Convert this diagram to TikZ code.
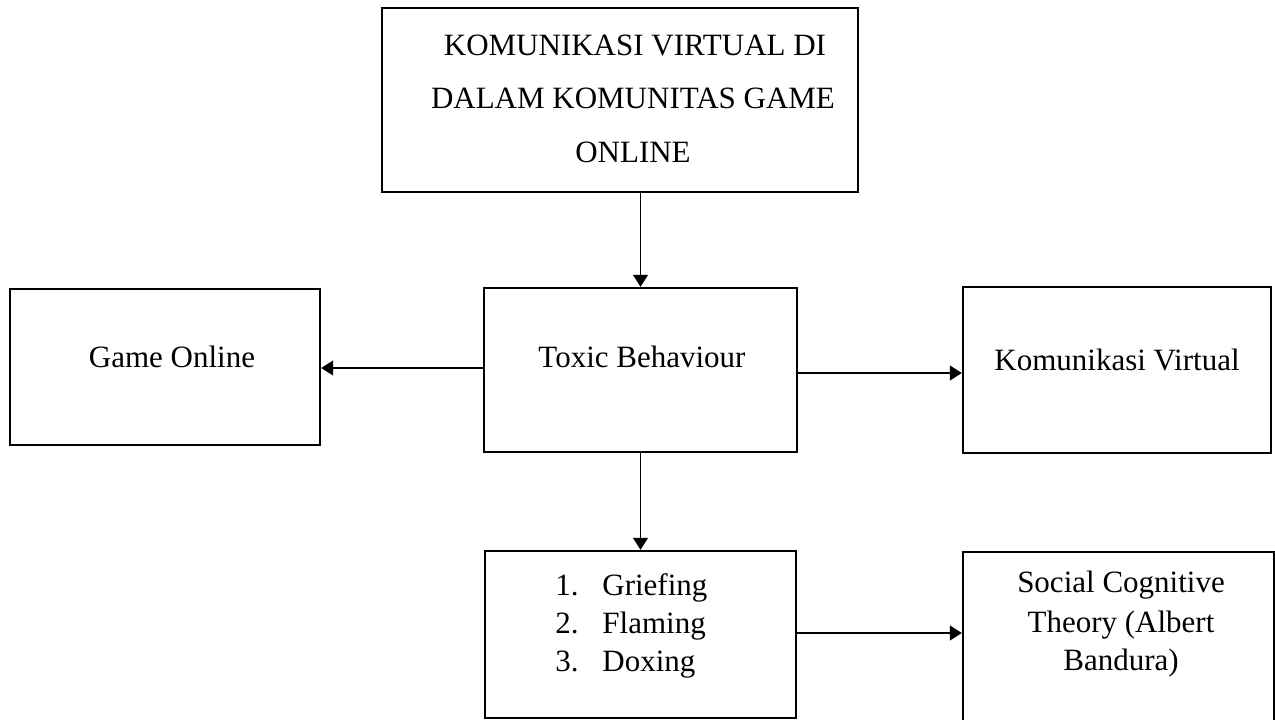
\documentclass[tikz,border=0pt]{standalone}
\usepackage{fontspec}
\setmainfont{Liberation Serif}
\usetikzlibrary{arrows.meta,fit}
\begin{document}
\begin{tikzpicture}[x=0.5pt,y=-0.5pt,
  box/.style={draw, line width=1.2pt, inner sep=0pt},
  arr/.style={-{Triangle[length=6pt,width=7.5pt]}, line width=0.6pt},
  txt/.style={inner sep=0pt, anchor=base, font=\fontsize{15.5pt}{19pt}\selectfont},
  ltxt/.style={txt, anchor=base west}]
\clip (0,0) rectangle (1275,719);
% boxes
\node[box, fit={(382,8) (858,192)}] (top) {};
\node[box, fit={(484,288) (797,452)}] (toxic) {};
\node[box, fit={(10,289) (320,445)}] (game) {};
\node[box, fit={(963,287) (1271,453)}] (kom) {};
\node[box, fit={(485,551) (796,718)}] (list) {};
\node[box, fit={(963,552) (1274,780)}] (sct) {};
% texts
\node[txt] (t1) at (635,55) {KOMUNIKASI VIRTUAL DI};
\node[txt] (t2) at (633,108) {DALAM KOMUNITAS GAME};
\node[txt] (t3) at (633,162) {ONLINE};
\node[txt] (tg) at (172,367) {Game Online};
\node[txt] (tt) at (642,367) {Toxic Behaviour};
\node[txt] (tk) at (1117,370) {Komunikasi Virtual};
\node[ltxt] (n1) at (555,595) {1.};
\node[ltxt] (n2) at (555,633) {2.};
\node[ltxt] (n3) at (555,671) {3.};
\node[ltxt] (l1) at (602,595) {Griefing};
\node[ltxt] (l2) at (602,633) {Flaming};
\node[ltxt] (l3) at (602,671) {Doxing};
\node[txt] (s1) at (1121,592) {Social Cognitive};
\node[txt] (s2) at (1121,632) {Theory (Albert};
\node[txt] (s3) at (1121,670) {Bandura)};
% connectors
\draw[arr] (toxic.north |- top.south) -- (toxic.north);
\draw[arr] (toxic.west |- 0,368) -- (game.east |- 0,368);
\draw[arr] (toxic.east |- 0,373) -- (kom.west |- 0,373);
\draw[arr] (toxic.south) -- (toxic.south |- list.north);
\draw[arr] (list.east |- 0,633) -- (sct.west |- 0,633);
\end{tikzpicture}
\end{document}
